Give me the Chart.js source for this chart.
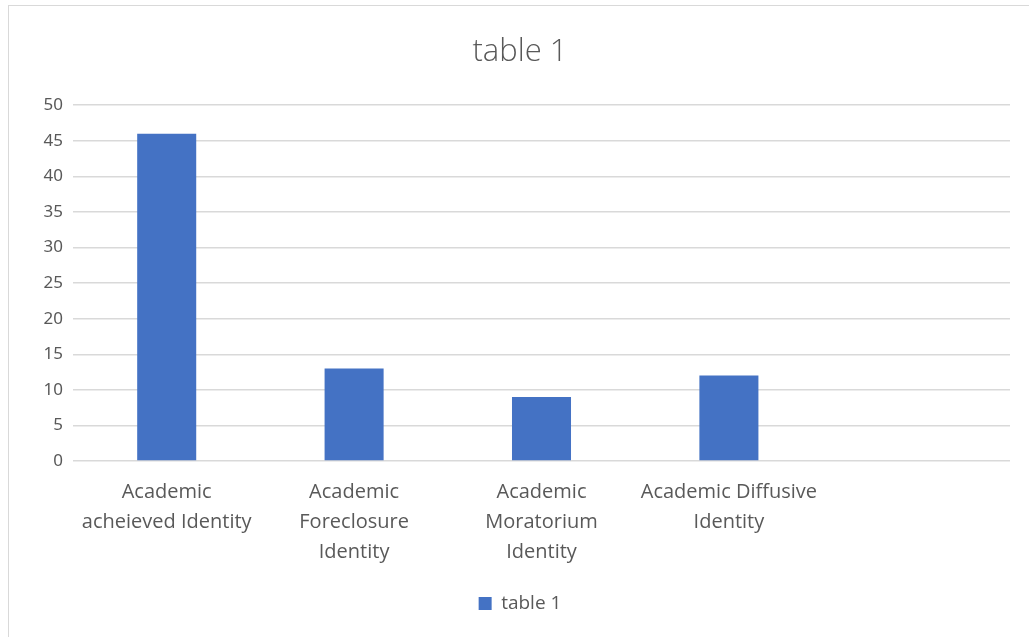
<!DOCTYPE html>
<html>
<head>
  <title>table 1</title>
  <script src="https://cdn.jsdelivr.net/npm/chart.js"></script>
  <style>
    body { margin: 0; background: #fff; }
    #frame {
      position: absolute;
      left: 8px; top: 5px;
      width: 1030px; height: 640px;
      border: 1px solid #d9d9d9;
    }
    #wrap {
      position: absolute;
      left: 0; top: 0;
      width: 1029px; height: 637px;
    }
  </style>
</head>
<body>
  <div id="frame"></div>
  <div id="wrap"><canvas id="identityChart"></canvas></div>

  <script>
    // category labels (wrapped like the original), last slot is empty
    const categories = [
      ['Academic', 'acheieved Identity'],
      ['Academic', 'Foreclosure', 'Identity'],
      ['Academic', 'Moratorium', 'Identity'],
      ['Academic Diffusive', 'Identity'],
      ''
    ];
    const seriesName = 'table 1';
    const seriesValues = [46, 13, 9, 12, null];
    const yTicks = [0, 5, 10, 15, 20, 25, 30, 35, 40, 45, 50];

    const grey = '#595959';

    const ctx = document.getElementById('identityChart').getContext('2d');
    new Chart(ctx, {
      type: 'bar',
      data: {
        labels: categories,
        datasets: [{
          label: seriesName,
          data: seriesValues,
          backgroundColor: '#4472c4',
          borderWidth: 0,
          categoryPercentage: 1,
          barPercentage: 0.315
        }]
      },
      options: {
        responsive: true,
        maintainAspectRatio: false,
        animation: false,
        layout: { padding: { left: 30, right: 19, top: 22, bottom: 14 } },
        plugins: {
          title: {
            display: true,
            text: 'table 1',
            color: grey,
            font: { family: 'Open Sans', size: 31, weight: '300' },
            padding: { top: 12, bottom: 34 }
          },
          legend: {
            position: 'bottom',
            labels: {
              color: grey,
              font: { family: 'Open Sans', size: 19 },
              boxWidth: 13,
              boxHeight: 13,
              padding: 7
            }
          },
          tooltip: { enabled: false }
        },
        scales: {
          y: {
            min: 0,
            max: 50,
            afterBuildTicks: axis => { axis.ticks = yTicks.map(v => ({ value: v })); },
            afterFit: axis => { axis.width = 43; },
            border: { display: false },
            grid: { color: '#d9d9d9', lineWidth: 1.5, drawTicks: false },
            ticks: {
              color: grey,
              padding: 10,
              font: { family: 'Noto Sans', size: 17 }
            }
          },
          x: {
            afterFit: axis => { axis.height += 12; },
            border: { display: false },
            grid: { display: false },
            ticks: {
              color: grey,
              padding: 8,
              maxRotation: 0,
              autoSkip: false,
              font: { family: 'Open Sans', size: 20, lineHeight: 1.5 }
            }
          }
        }
      }
    });
  </script>
</body>
</html>
